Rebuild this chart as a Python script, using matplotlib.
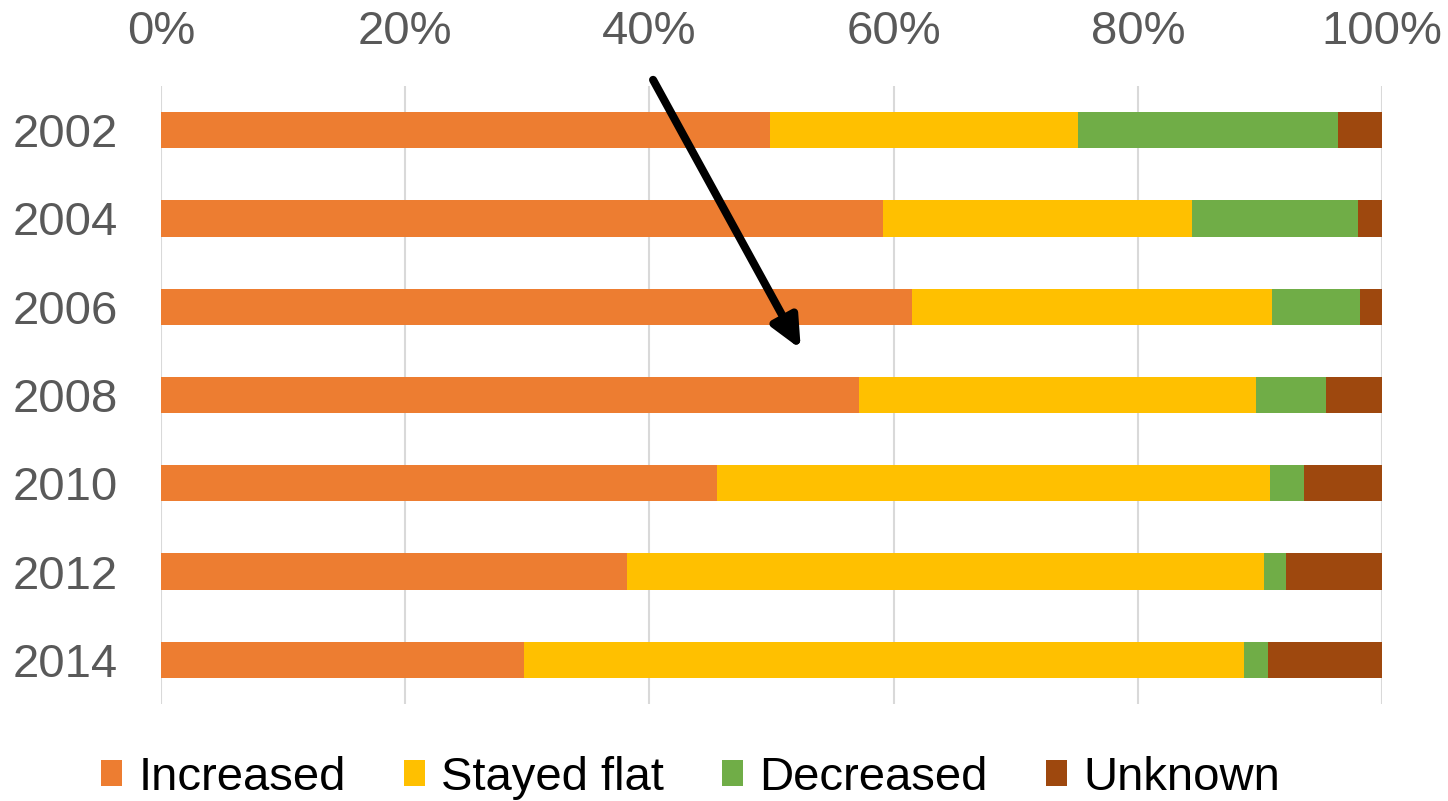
import matplotlib.pyplot as plt
import numpy as np

plt.rcParams['font.family'] = ['Liberation Sans', 'DejaVu Sans']

# Data (shares in %)
years = ['2002', '2004', '2006', '2008', '2010', '2012', '2014']
increased = [49.9, 59.1, 61.5, 57.2, 45.5, 38.2, 29.7]
stayed_flat = [25.2, 25.3, 29.5, 32.5, 45.3, 52.1, 59.0]
decreased = [21.3, 13.6, 7.2, 5.7, 2.8, 1.8, 2.0]
unknown = [3.6, 2.0, 1.8, 4.6, 6.4, 7.9, 9.3]

series = [
    ('Increased', increased, '#ED7D31'),
    ('Stayed flat', stayed_flat, '#FFC000'),
    ('Decreased', decreased, '#70AD47'),
    ('Unknown', unknown, '#9E480E'),
]

# Arrow annotation (x in %, y in category units)
arrow_start = (40.3, -0.57)
arrow_end = (52.4, 2.48)

FontSize = 34

fig = plt.figure(figsize=(14.48, 8.01), dpi=100)
ax = fig.add_axes([0.1112, 0.1211, 0.8432, 0.7715])

ys = np.arange(len(years))
left = np.zeros(len(years))
for label, values, color in series:
    ax.barh(ys, values, left=left, height=0.41, color=color, label=label, zorder=2)
    left = left + np.array(values)

ax.set_xlim(0, 100)
ax.set_ylim(len(years) - 0.5, -0.5)
ax.set_yticks(ys)
ax.set_yticklabels(years)
ax.set_xticks(np.arange(0, 101, 20))
ax.set_xticklabels(['{}%'.format(v) for v in range(0, 101, 20)])

ax.xaxis.tick_top()
ax.tick_params(axis='both', length=0, labelsize=FontSize, labelcolor='#595959')
ax.tick_params(axis='x', pad=23)
ax.tick_params(axis='y', pad=31)

ax.grid(axis='x', color='#D9D9D9', linewidth=1.5, zorder=0)
ax.set_axisbelow(True)
for s in ax.spines.values():
    s.set_visible(False)

ax.annotate('', xy=arrow_end, xytext=arrow_start,
            arrowprops=dict(arrowstyle='-|>,head_length=1.85,head_width=0.85',
                            color='black', linewidth=5.8, shrinkA=0, shrinkB=0),
            annotation_clip=False, zorder=5)

fig.legend(loc='center', bbox_to_anchor=(0.477, 0.029), ncol=4, frameon=False,
           fontsize=FontSize, handlelength=0.45, handleheight=0.45,
           handletextpad=0.34, columnspacing=1.23, borderaxespad=0)

fig.savefig('out.png', dpi=100)
